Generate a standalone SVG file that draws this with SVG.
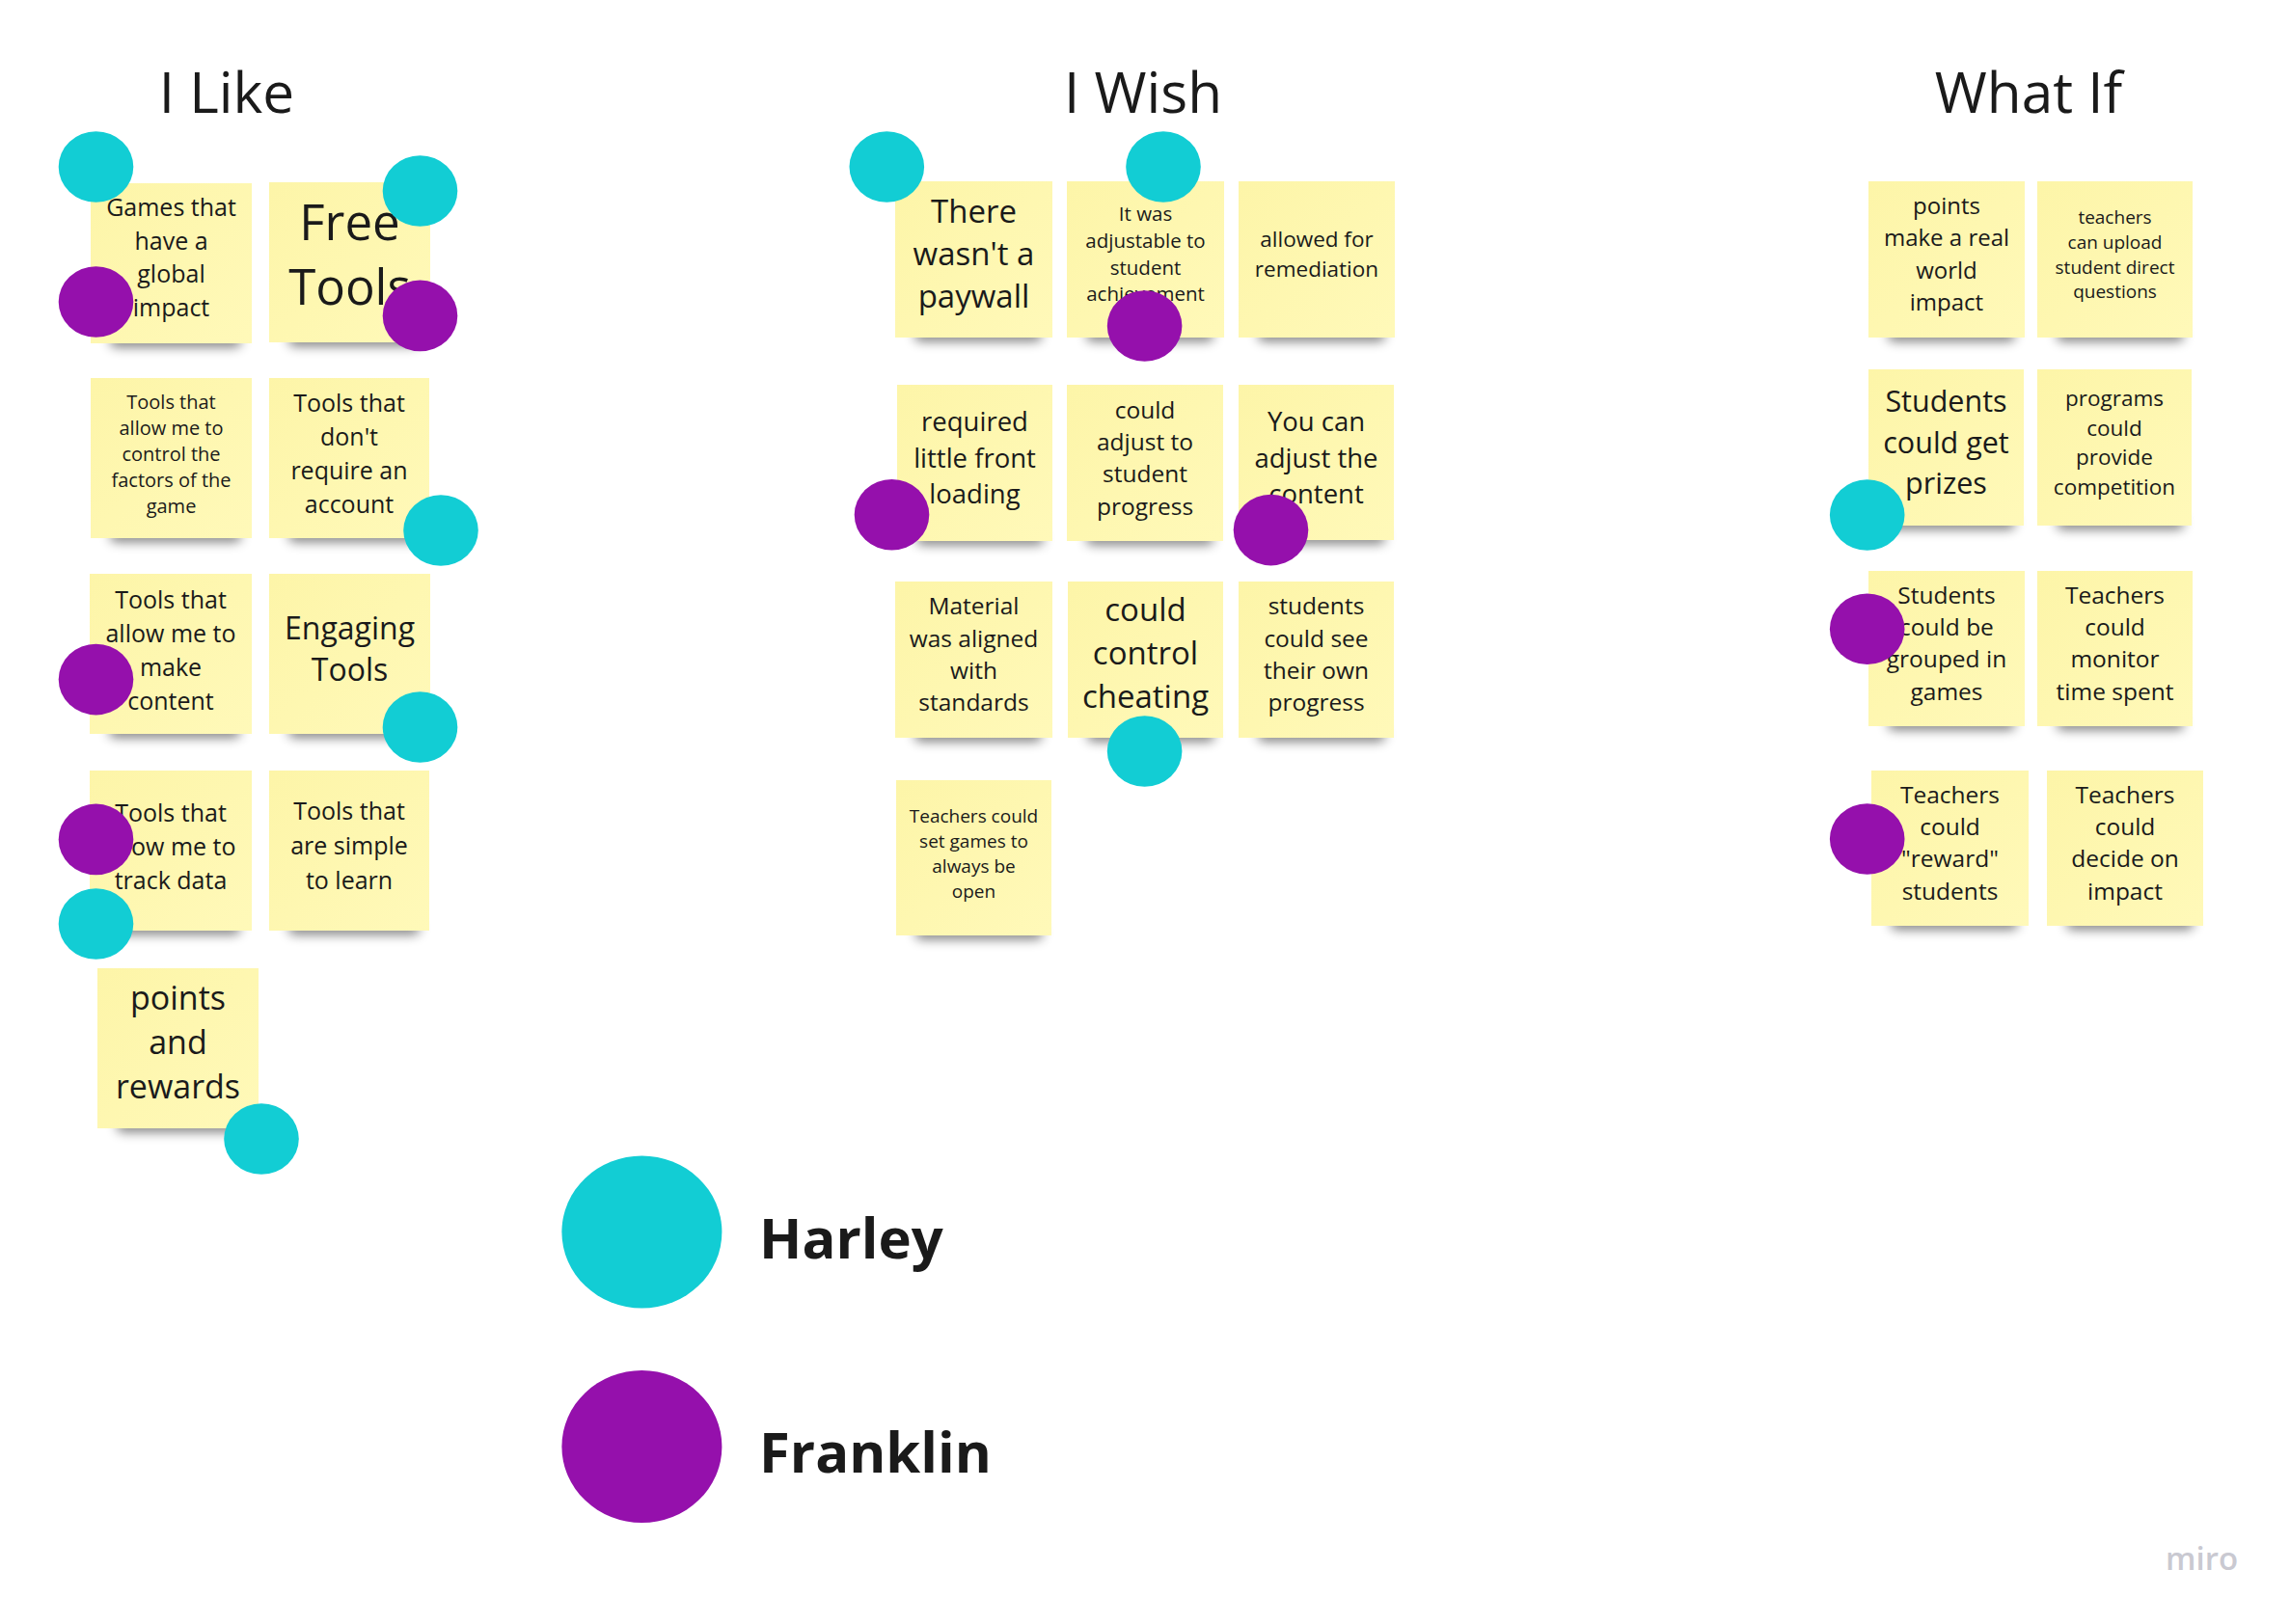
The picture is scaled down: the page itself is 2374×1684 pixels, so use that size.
<svg xmlns="http://www.w3.org/2000/svg" width="2374" height="1684" viewBox="0 0 2374 1684">
<style>
text{font-family:"Open Sans","Noto Sans","Liberation Sans",sans-serif;fill:#1a1a1a;text-anchor:middle}
.title{font-size:58.5px}
.st{fill:url(#sg)}
.sh{fill:#000;opacity:0.5;filter:url(#blur)}
.c{fill:#12cdd4}
.p{fill:#9510ac}
.leg{font-weight:700;font-size:58px;text-anchor:start}
.miro{fill:#c9c9d1;font-size:33px;font-weight:600;text-anchor:start}
</style>
<defs>
<linearGradient id="sg" x1="0" y1="0" x2="1" y2="1">
<stop offset="0" stop-color="#fdf5a8"/>
<stop offset="1" stop-color="#fff9b9"/>
</linearGradient>
<filter id="blur" x="-20%" y="-100%" width="140%" height="300%"><feGaussianBlur stdDeviation="6"/></filter>
</defs>
<rect width="2374" height="1684" fill="#ffffff"/>

<g id="titles">
<text class="title" x="235" y="117">I Like</text>
<text class="title" x="1185" y="117">I Wish</text>
<text class="title" x="2103" y="117">What If</text>
</g>

<g id="connectors"></g>

<!-- I Like -->
<g id="like-1"><rect class="sh" x="114" y="347" width="136" height="13" rx="6"/><rect class="st" x="94" y="190" width="167" height="166"/>
<g font-size="25"><text x="177.5" y="224">Games that</text><text x="177.5" y="258.5">have a</text><text x="177.5" y="293">global</text><text x="177.5" y="327.5">impact</text></g></g>
<g id="like-2"><rect class="sh" x="299" y="346" width="136" height="13" rx="6"/><rect class="st" x="279" y="189" width="167" height="166"/>
<g font-size="51"><text x="362.5" y="249">Free</text><text x="362.5" y="316">Tools</text></g></g>
<g id="like-3"><rect class="sh" x="114" y="549" width="136" height="13" rx="6"/><rect class="st" x="94" y="392" width="167" height="166"/>
<g font-size="20"><text x="177.5" y="424">Tools that</text><text x="177.5" y="451">allow me to</text><text x="177.5" y="478">control the</text><text x="177.5" y="505">factors of the</text><text x="177.5" y="532">game</text></g></g>
<g id="like-4"><rect class="sh" x="299" y="549" width="136" height="13" rx="6"/><rect class="st" x="279" y="392" width="166" height="166"/>
<g font-size="25"><text x="362" y="427">Tools that</text><text x="362" y="462">don't</text><text x="362" y="497">require an</text><text x="362" y="532">account</text></g></g>
<g id="like-5"><rect class="sh" x="113" y="752" width="136" height="13" rx="6"/><rect class="st" x="93" y="595" width="168" height="166"/>
<g font-size="25"><text x="177" y="631">Tools that</text><text x="177" y="666">allow me to</text><text x="177" y="701">make</text><text x="177" y="736">content</text></g></g>
<g id="like-6"><rect class="sh" x="299" y="752" width="136" height="13" rx="6"/><rect class="st" x="279" y="595" width="167" height="166"/>
<g font-size="32"><text x="362.5" y="663">Engaging</text><text x="362.5" y="706">Tools</text></g></g>
<g id="like-7"><rect class="sh" x="113" y="956" width="136" height="13" rx="6"/><rect class="st" x="93" y="799" width="168" height="166"/>
<g font-size="25"><text x="177" y="851.5">Tools that</text><text x="177" y="886.5">allow me to</text><text x="177" y="921.5">track data</text></g></g>
<g id="like-8"><rect class="sh" x="299" y="956" width="136" height="13" rx="6"/><rect class="st" x="279" y="799" width="166" height="166"/>
<g font-size="25"><text x="362" y="850">Tools that</text><text x="362" y="886">are simple</text><text x="362" y="922">to learn</text></g></g>
<g id="like-9"><rect class="sh" x="121" y="1161" width="136" height="13" rx="6"/><rect class="st" x="101" y="1004" width="167" height="166"/>
<g font-size="34"><text x="184.5" y="1047">points</text><text x="184.5" y="1093">and</text><text x="184.5" y="1139">rewards</text></g></g>

<!-- I Wish -->
<g id="wish-1"><rect class="sh" x="948" y="341" width="132" height="13" rx="6"/><rect class="st" x="928" y="188" width="163" height="162"/>
<g font-size="33"><text x="1009.5" y="230.5">There</text><text x="1009.5" y="274.5">wasn't a</text><text x="1009.5" y="318.5">paywall</text></g></g>
<g id="wish-2"><rect class="sh" x="1126" y="341" width="132" height="13" rx="6"/><rect class="st" x="1106" y="188" width="163" height="162"/>
<g font-size="20.5"><text x="1187.5" y="229.3">It was</text><text x="1187.5" y="257">adjustable to</text><text x="1187.5" y="284.7">student</text><text x="1187.5" y="312.4">achievement</text></g></g>
<g id="wish-3"><rect class="sh" x="1304" y="341" width="132" height="13" rx="6"/><rect class="st" x="1284" y="188" width="162" height="162"/>
<g font-size="22.5"><text x="1365" y="256">allowed for</text><text x="1365" y="286.7">remediation</text></g></g>
<g id="wish-4"><rect class="sh" x="950" y="552" width="132" height="13" rx="6"/><rect class="st" x="930" y="399" width="161" height="162"/>
<g font-size="27.5"><text x="1010.5" y="447">required</text><text x="1010.5" y="484.5">little front</text><text x="1010.5" y="522">loading</text></g></g>
<g id="wish-5"><rect class="sh" x="1126" y="552" width="132" height="13" rx="6"/><rect class="st" x="1106" y="399" width="162" height="162"/>
<g font-size="24.5"><text x="1187" y="434">could</text><text x="1187" y="467">adjust to</text><text x="1187" y="500">student</text><text x="1187" y="534">progress</text></g></g>
<g id="wish-6"><rect class="sh" x="1304" y="551" width="132" height="13" rx="6"/><rect class="st" x="1284" y="399" width="161" height="161"/>
<g font-size="27.5"><text x="1364.5" y="447">You can</text><text x="1364.5" y="484.5">adjust the</text><text x="1364.5" y="522">content</text></g></g>
<g id="wish-7"><rect class="sh" x="948" y="756" width="132" height="13" rx="6"/><rect class="st" x="928" y="603" width="163" height="162"/>
<g font-size="24.5"><text x="1009.5" y="637.3">Material</text><text x="1009.5" y="670.7">was aligned</text><text x="1009.5" y="704">with</text><text x="1009.5" y="737.3">standards</text></g></g>
<g id="wish-8"><rect class="sh" x="1127" y="756" width="132" height="13" rx="6"/><rect class="st" x="1107" y="603" width="161" height="162"/>
<g font-size="33"><text x="1187.5" y="644">could</text><text x="1187.5" y="689.3">control</text><text x="1187.5" y="734">cheating</text></g></g>
<g id="wish-9"><rect class="sh" x="1304" y="756" width="132" height="13" rx="6"/><rect class="st" x="1284" y="603" width="161" height="162"/>
<g font-size="24.5"><text x="1364.5" y="637.3">students</text><text x="1364.5" y="670.7">could see</text><text x="1364.5" y="704">their own</text><text x="1364.5" y="737.3">progress</text></g></g>
<g id="wish-10"><rect class="sh" x="949" y="961" width="132" height="13" rx="6"/><rect class="st" x="929" y="809" width="161" height="161"/>
<g font-size="19"><text x="1009.5" y="853.3">Teachers could</text><text x="1009.5" y="879.3">set games to</text><text x="1009.5" y="905">always be</text><text x="1009.5" y="930.7">open</text></g></g>

<!-- What If -->
<g id="whatif-1"><rect class="sh" x="1957" y="341" width="132" height="13" rx="6"/><rect class="st" x="1937" y="188" width="162" height="162"/>
<g font-size="24"><text x="2018" y="222">points</text><text x="2018" y="255">make a real</text><text x="2018" y="288.5">world</text><text x="2018" y="321.5">impact</text></g></g>
<g id="whatif-2"><rect class="sh" x="2132" y="341" width="132" height="13" rx="6"/><rect class="st" x="2112" y="188" width="161" height="162"/>
<g font-size="19"><text x="2192.5" y="232">teachers</text><text x="2192.5" y="258">can upload</text><text x="2192.5" y="283.5">student direct</text><text x="2192.5" y="308.5">questions</text></g></g>
<g id="whatif-3"><rect class="sh" x="1957" y="536" width="132" height="13" rx="6"/><rect class="st" x="1937" y="383" width="161" height="162"/>
<g font-size="30.5"><text x="2017.5" y="427">Students</text><text x="2017.5" y="469.5">could get</text><text x="2017.5" y="511.5">prizes</text></g></g>
<g id="whatif-4"><rect class="sh" x="2132" y="536" width="132" height="13" rx="6"/><rect class="st" x="2112" y="383" width="160" height="162"/>
<g font-size="22.5"><text x="2192" y="421">programs</text><text x="2192" y="451.5">could</text><text x="2192" y="482">provide</text><text x="2192" y="513">competition</text></g></g>
<g id="whatif-5"><rect class="sh" x="1957" y="744" width="132" height="13" rx="6"/><rect class="st" x="1937" y="592" width="162" height="161"/>
<g font-size="24.5"><text x="2018" y="625.7">Students</text><text x="2018" y="659">could be</text><text x="2018" y="692.3">grouped in</text><text x="2018" y="725.7">games</text></g></g>
<g id="whatif-6"><rect class="sh" x="2132" y="744" width="132" height="13" rx="6"/><rect class="st" x="2112" y="592" width="161" height="161"/>
<g font-size="24.5"><text x="2192.5" y="625.7">Teachers</text><text x="2192.5" y="659">could</text><text x="2192.5" y="692.3">monitor</text><text x="2192.5" y="725.7">time spent</text></g></g>
<g id="whatif-7"><rect class="sh" x="1960" y="951" width="132" height="13" rx="6"/><rect class="st" x="1940" y="799" width="163" height="161"/>
<g font-size="24.5"><text x="2021.5" y="832.7">Teachers</text><text x="2021.5" y="866">could</text><text x="2021.5" y="899.3">"reward"</text><text x="2021.5" y="932.7">students</text></g></g>
<g id="whatif-8"><rect class="sh" x="2142" y="951" width="132" height="13" rx="6"/><rect class="st" x="2122" y="799" width="162" height="161"/>
<g font-size="24.5"><text x="2203" y="832.7">Teachers</text><text x="2203" y="866">could</text><text x="2203" y="899.3">decide on</text><text x="2203" y="932.7">impact</text></g></g>

<!-- Dots -->
<g id="dots-harley">
<ellipse class="c" cx="99.5" cy="173" rx="38.8" ry="36.8"/>
<ellipse class="c" cx="435.5" cy="198" rx="38.8" ry="36.8"/>
<ellipse class="c" cx="457" cy="550" rx="38.8" ry="36.8"/>
<ellipse class="c" cx="435.5" cy="754" rx="38.8" ry="36.8"/>
<ellipse class="c" cx="99.5" cy="958" rx="38.8" ry="36.8"/>
<ellipse class="c" cx="271" cy="1181" rx="38.8" ry="36.8"/>
<ellipse class="c" cx="919.3" cy="173" rx="38.8" ry="36.8"/>
<ellipse class="c" cx="1206" cy="173" rx="38.8" ry="36.8"/>
<ellipse class="c" cx="1186.6" cy="779" rx="38.8" ry="36.8"/>
<ellipse class="c" cx="1935.7" cy="534" rx="38.8" ry="36.8"/>
</g>
<g id="dots-franklin">
<ellipse class="p" cx="99.5" cy="313" rx="38.8" ry="36.8"/>
<ellipse class="p" cx="435.5" cy="327.4" rx="38.8" ry="36.8"/>
<ellipse class="p" cx="99.5" cy="704.6" rx="38.8" ry="36.8"/>
<ellipse class="p" cx="99.5" cy="870.4" rx="38.8" ry="36.8"/>
<ellipse class="p" cx="1186.6" cy="338" rx="38.8" ry="36.8"/>
<ellipse class="p" cx="924.5" cy="533.8" rx="38.8" ry="36.8"/>
<ellipse class="p" cx="1317.5" cy="549.6" rx="38.8" ry="36.8"/>
<ellipse class="p" cx="1935.7" cy="652.3" rx="38.8" ry="36.8"/>
<ellipse class="p" cx="1935.7" cy="870" rx="38.8" ry="36.8"/>
</g>

<!-- Legend -->
<g id="legend-harley"><ellipse class="c" cx="665.4" cy="1277.5" rx="83" ry="79"/><text class="leg" x="787" y="1305">Harley</text></g>
<g id="legend-franklin"><ellipse class="p" cx="665.4" cy="1500" rx="83" ry="79"/><text class="leg" x="787" y="1527">Franklin</text></g>

<text class="miro" x="2245" y="1628">miro</text>
</svg>
